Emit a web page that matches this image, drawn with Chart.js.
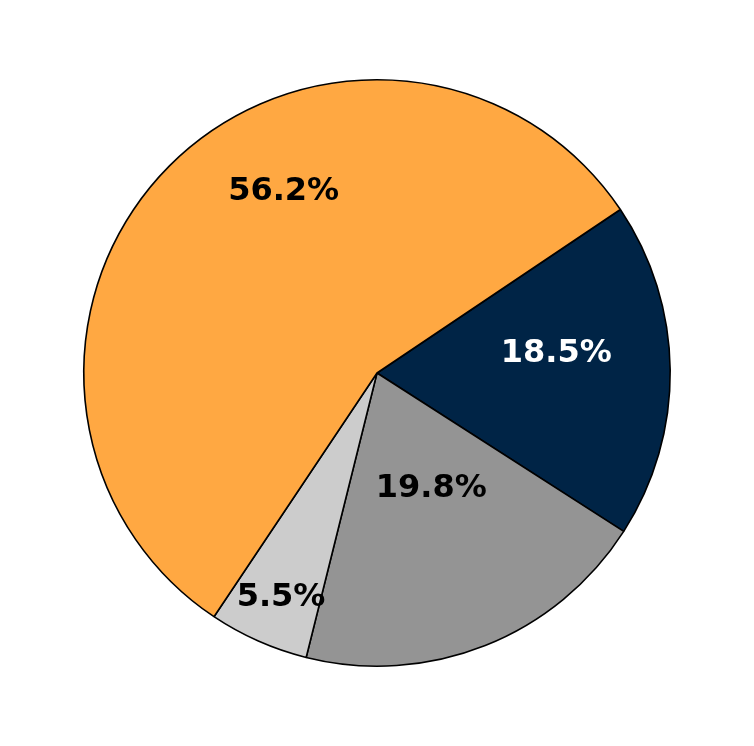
<!DOCTYPE html>
<html>
<head>
<meta charset="utf-8">
<script src="https://cdn.jsdelivr.net/npm/chart.js@4"></script>
<style>
  html, body { margin: 0; padding: 0; background: #fff; }
  #wrap { width: 754px; height: 746px; }
</style>
</head>
<body>
<div id="wrap"><canvas id="pie" width="754" height="746"></canvas></div>
<script>
// 円グラフのデータ（時計回り、ネイビーから）
const categories = ['Navy', 'Dark gray', 'Light gray', 'Orange'];
const shares = [18.5, 19.8, 5.5, 56.2];
const sliceColors = ['#002446', '#949494', '#cccccc', '#ffa842'];
const labelColors = ['#ffffff', '#000000', '#000000', '#000000'];
// ラベル位置（扇形内の角度比・半径比）
const labelAngleFrac = [0.414, 0.449, 0.467, 0.589];
const labelRadiusFrac = [0.615, 0.433, 0.83, 0.70];

const pctLabels = {
  id: 'pctLabels',
  afterDatasetsDraw(chart) {
    const ctx = chart.ctx;
    const meta = chart.getDatasetMeta(0);
    ctx.save();
    ctx.font = 'bold 32px "DejaVu Sans", Verdana, sans-serif';
    ctx.textAlign = 'center';
    ctx.textBaseline = 'middle';
    meta.data.forEach((arc, i) => {
      const p = arc.getProps(['x', 'y', 'startAngle', 'endAngle', 'outerRadius'], true);
      const a = p.startAngle + (p.endAngle - p.startAngle) * labelAngleFrac[i];
      const r = p.outerRadius * labelRadiusFrac[i];
      ctx.fillStyle = labelColors[i];
      ctx.fillText(shares[i].toFixed(1) + '%', p.x + Math.cos(a) * r, p.y + Math.sin(a) * r + 1);
    });
    ctx.restore();
  }
};

new Chart(document.getElementById('pie'), {
  type: 'pie',
  data: {
    labels: categories,
    datasets: [{
      data: shares,
      backgroundColor: sliceColors,
      borderColor: '#000000',
      borderWidth: 1.6,
      hoverOffset: 0,
      hoverBorderWidth: 1.6
    }]
  },
  options: {
    responsive: false,
    animation: false,
    rotation: 56.1,
    layout: { padding: { left: 83, right: 83, top: 79, bottom: 79 } },
    plugins: {
      legend: { display: false },
      tooltip: { enabled: false }
    },
    events: []
  },
  plugins: [pctLabels]
});
</script>
</body>
</html>
